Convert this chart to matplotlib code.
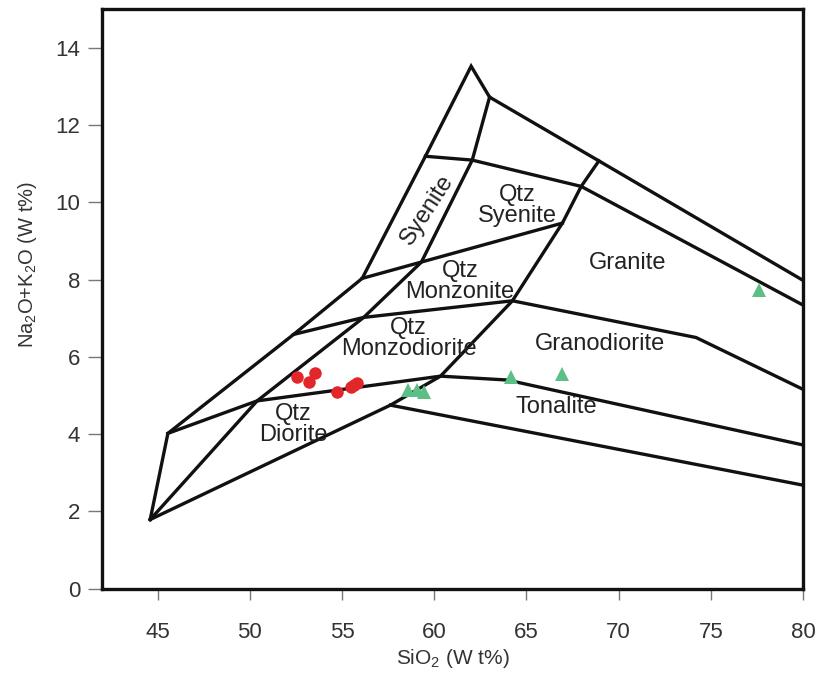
import matplotlib
matplotlib.use('Agg')
import matplotlib.pyplot as plt

plt.rcParams['font.family'] = ['Liberation Sans', 'DejaVu Sans']
plt.rcParams['mathtext.default'] = 'regular'

# ---- field boundary polylines (SiO2 wt%, Na2O+K2O wt%) ----
outer_x = [44.59, 45.55, 52.37, 56.09, 59.52, 62.0, 63.0, 68.93, 80.0]
outer_y = [1.79, 4.02, 6.58, 8.03, 11.19, 13.52, 12.72, 11.07, 7.98]

east_x = [44.59, 57.62, 60.34, 64.24, 66.95, 67.97, 68.93]
east_y = [1.79, 4.75, 5.50, 7.45, 9.46, 10.41, 11.07]

west_x = [44.59, 50.39, 56.17, 59.30, 62.06, 63.0]
west_y = [1.79, 4.86, 7.02, 8.45, 11.09, 12.72]

diorite_top_x = [45.55, 50.39, 60.34, 63.96, 80.0]
diorite_top_y = [4.02, 4.86, 5.50, 5.40, 3.72]

tonalite_low_x = [57.62, 80.0]
tonalite_low_y = [4.75, 2.68]

monzodiorite_top_x = [52.37, 56.17, 64.24, 74.2, 80.0]
monzodiorite_top_y = [6.58, 7.02, 7.45, 6.5, 5.16]

monzonite_top_x = [56.09, 66.95]
monzonite_top_y = [8.03, 9.46]

syenite_top_x = [59.52, 62.06, 67.97, 80.0]
syenite_top_y = [11.19, 11.09, 10.41, 7.34]

boundaries = [
    (outer_x, outer_y), (east_x, east_y), (west_x, west_y),
    (diorite_top_x, diorite_top_y), (tonalite_low_x, tonalite_low_y),
    (monzodiorite_top_x, monzodiorite_top_y), (monzonite_top_x, monzonite_top_y),
    (syenite_top_x, syenite_top_y),
]

# ---- field names ----
field_names = ['Syenite', 'Qtz\nSyenite', 'Qtz\nMonzonite', 'Qtz\nMonzodiorite',
               'Qtz\nDiorite', 'Granite', 'Granodiorite', 'Tonalite']
field_x = [59.6, 64.5, 61.4, 58.6, 52.35, 70.5, 69.0, 66.6]
field_y = [9.8, 9.92, 7.95, 6.47, 4.25, 8.43, 6.34, 4.71]
field_rot = [57, 0, 0, 0, 0, 0, 0, 0]

# ---- samples ----
red_x = [52.55, 53.2, 53.55, 54.7, 55.5, 55.8, 55.65]
red_y = [5.47, 5.35, 5.58, 5.08, 5.22, 5.32, 5.26]

green_x = [58.6, 59.05, 59.45, 64.14, 66.94, 77.62]
green_y = [5.13, 5.13, 5.09, 5.48, 5.55, 7.74]

x_ticks = [45, 50, 55, 60, 65, 70, 75, 80]
y_ticks = [0, 2, 4, 6, 8, 10, 12, 14]

fig = plt.figure(figsize=(8.21, 6.77), dpi=100)
ax = fig.add_axes([0.1248, 0.1304, 0.978 - 0.1248, 0.9867 - 0.1304])

for bx, by in boundaries:
    ax.plot(bx, by, color='#111111', lw=2.4, solid_joinstyle='miter', zorder=2)

for name, tx, ty, rot in zip(field_names, field_x, field_y, field_rot):
    ax.text(tx, ty, name, fontsize=17, color='#222222', ha='center', va='center',
            rotation=rot, linespacing=0.95, zorder=3)

ax.plot(red_x, red_y, 'o', color='#e3262a', markersize=9, markeredgewidth=0, zorder=4)
ax.plot(green_x, green_y, '^', color='#5cbf86', markersize=10, markeredgewidth=0, zorder=4)

ax.set_xlim(42, 80)
ax.set_ylim(0, 15)
ax.set_xticks(x_ticks)
ax.set_yticks(y_ticks)
ax.tick_params(axis='x', length=8, width=1, color='#777777', labelsize=16,
               labelcolor='#333333', pad=16)
ax.tick_params(axis='y', length=10, width=1, color='#777777', labelsize=16,
               labelcolor='#333333', pad=6)
for s in ax.spines.values():
    s.set_linewidth(2.4)
    s.set_color('#111111')

ax.set_xlabel('SiO$_2$ (W t%)', fontsize=15, color='#333333', labelpad=3)
ax.set_ylabel('Na$_2$O+K$_2$O (W t%)', fontsize=14.5, color='#333333')
ax.yaxis.set_label_coords(-0.09, 0.56)

fig.savefig('out.png', dpi=100)
